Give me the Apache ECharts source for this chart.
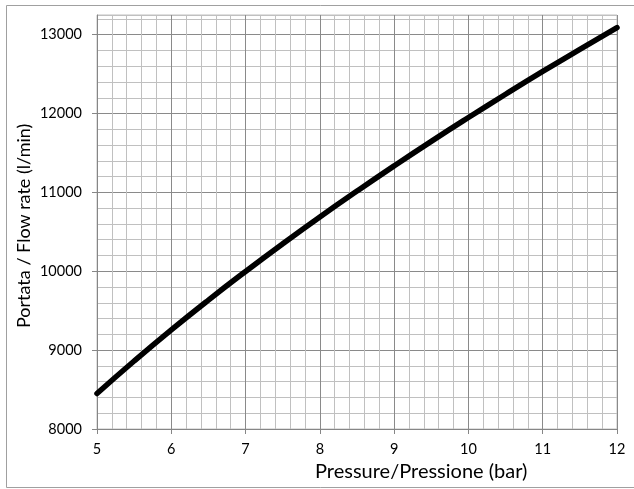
<!DOCTYPE html>
<html>
<head>
<meta charset="utf-8">
<script src="https://cdn.jsdelivr.net/npm/echarts@6/dist/echarts.min.js"></script>
<style>html,body{margin:0;padding:0;background:#fff}#c{width:634px;height:489px}</style>
</head>
<body>
<div id="c"></div>
<script>
var pressure = [5, 5.5, 6, 6.5, 7, 7.5, 8, 8.5, 9, 9.5, 10, 10.5, 11, 11.5, 12];
var flowRate = [8450, 8862, 9257, 9635, 9998, 10349, 10689, 11017, 11337, 11648, 11950, 12245, 12534, 12815, 13091];
var xTitle = 'Pressure/Pressione (bar)';
var yTitle = 'Portata / Flow rate (l/min)';

var FONT = 'Lato';
var chart = echarts.init(document.getElementById('c'), null, {renderer: 'canvas'});
var data = pressure.map(function (p, i) { return [p, flowRate[i]]; });

chart.setOption({
  animation: false,
  backgroundColor: '#fff',
  graphic: [{
    type: 'rect', shape: {x: 6.5, y: 5.5, width: 700, height: 482},
    style: {fill: 'none', stroke: '#a0a0a0', lineWidth: 1}, z: -10
  }, {
    type: 'text', x: 315, y: 472,
    style: {text: xTitle, font: '20px ' + FONT, fill: '#000', textAlign: 'left', verticalAlign: 'middle'}
  }, {
    type: 'text', x: 24, y: 328, rotation: Math.PI / 2,
    style: {text: yTitle, font: '18px ' + FONT, fill: '#000', textAlign: 'left', verticalAlign: 'middle'}
  }],
  grid: {left: 97, right: 17, top: 15, bottom: 60, show: true, borderColor: '#c0c0c0', borderWidth: 1},
  xAxis: [{
    type: 'value', min: 5, max: 12, interval: 1,
    axisLine: {show: true, onZero: false, lineStyle: {color: '#868686', width: 1}},
    axisTick: {show: true, length: 5, lineStyle: {color: '#868686'}},
    axisLabel: {fontFamily: FONT, fontSize: 14.5, color: '#000', margin: 13},
    splitLine: {show: true, lineStyle: {color: '#8a8a8a', width: 1}},
    minorTick: {show: false, splitNumber: 5},
    minorSplitLine: {show: true, lineStyle: {color: '#c0c0c0', width: 1}},
    z: 2
  }],
  yAxis: [{
    type: 'value', min: 8000, max: 13250, interval: 1000,
    axisLine: {show: true, onZero: false, lineStyle: {color: '#868686', width: 1}},
    axisTick: {show: true, length: 5, lineStyle: {color: '#868686'}},
    axisLabel: {fontFamily: FONT, fontSize: 14.5, color: '#000', margin: 15, showMaxLabel: false,
      formatter: function (v) { return v % 1000 === 0 ? String(v) : ''; }},
    splitLine: {show: true, showMaxLine: false, lineStyle: {color: '#8a8a8a', width: 1}},
    z: 2
  }, {
    type: 'value', min: 8000, max: 13250, interval: 200, position: 'left',
    axisLine: {show: false}, axisTick: {show: false}, axisLabel: {show: false},
    splitLine: {show: true, lineStyle: {color: '#c0c0c0', width: 1}},
    z: 0
  }],
  series: [{
    type: 'line', xAxisIndex: 0, yAxisIndex: 0, data: data,
    smooth: true, showSymbol: false, symbol: 'none',
    lineStyle: {color: '#000', width: 5.5, cap: 'round'},
    z: 5
  }]
});
</script>
</body>
</html>
